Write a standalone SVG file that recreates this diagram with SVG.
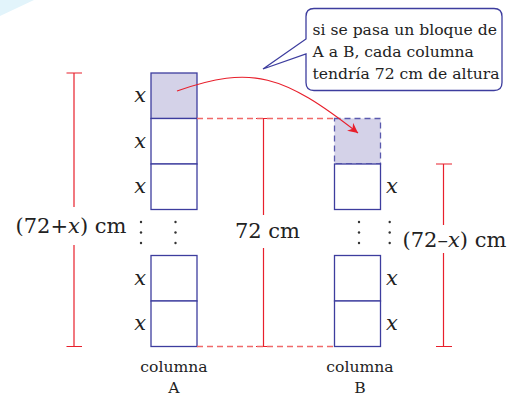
<svg xmlns="http://www.w3.org/2000/svg" width="521" height="403" viewBox="0 0 521 403">
<style>
.box{fill:#fff;stroke:#3d3d9e;stroke-width:1.3}
.sh{fill:#d4d2e8;stroke:#3d3d9e;stroke-width:1.3}
.dsh{fill:#d4d2e8;stroke:#5a5aae;stroke-width:1.3;stroke-dasharray:6 4}
.red{stroke:#e8202c;stroke-width:1.2;fill:none}
.rdash{stroke:#f06a6a;stroke-width:1.3;fill:none;stroke-dasharray:6 4}
.t{font-family:"DejaVu Serif","Liberation Serif",serif;fill:#222}
.big{font-size:21px}
.sm{font-size:15.6px}
.x{font-family:"DejaVu Serif","Liberation Serif",serif;font-style:italic;font-size:21px;fill:#222}
.dot{fill:#333}
</style>
<defs>
<marker id="ah" markerWidth="12" markerHeight="10" refX="10" refY="5" orient="auto" markerUnits="userSpaceOnUse">
<path d="M0,0 L10,5 L0,10 L3,5 Z" fill="#e8202c"/>
</marker>
</defs>
<polygon points="0,0 34,0 0,16" fill="#e2f4fb"/>
<g id="columnA">
<rect class="sh" x="151" y="73" width="46" height="45.5"/>
<rect class="box" x="151" y="118.5" width="46" height="45.5"/>
<rect class="box" x="151" y="164" width="46" height="45.5"/>
<rect class="box" x="151" y="255.5" width="46" height="45.5"/>
<rect class="box" x="151" y="301" width="46" height="45.5"/>
<text class="x" x="146" y="102" text-anchor="end">x</text>
<text class="x" x="146" y="147.5" text-anchor="end">x</text>
<text class="x" x="146" y="193" text-anchor="end">x</text>
<text class="x" x="146" y="285" text-anchor="end">x</text>
<text class="x" x="146" y="329.5" text-anchor="end">x</text>
<circle class="dot" cx="141" cy="222" r="1.2"/><circle class="dot" cx="141" cy="232.5" r="1.2"/><circle class="dot" cx="141" cy="243" r="1.2"/>
<circle class="dot" cx="175.5" cy="222" r="1.2"/><circle class="dot" cx="175.5" cy="232.5" r="1.2"/><circle class="dot" cx="175.5" cy="243" r="1.2"/>
<text class="t sm" x="174" y="372" text-anchor="middle">columna</text>
<text class="t sm" x="174" y="393" text-anchor="middle">A</text>
</g>
<g id="columnB">
<rect class="dsh" x="334.5" y="118.5" width="46" height="45.5"/>
<rect class="box" x="334.5" y="164" width="46" height="45.5"/>
<rect class="box" x="334.5" y="255.5" width="46" height="45.5"/>
<rect class="box" x="334.5" y="301" width="46" height="45.5"/>
<text class="x" x="386" y="193">x</text>
<text class="x" x="386" y="285">x</text>
<text class="x" x="386" y="329.5">x</text>
<circle class="dot" cx="359" cy="222" r="1.2"/><circle class="dot" cx="359" cy="232.5" r="1.2"/><circle class="dot" cx="359" cy="243" r="1.2"/>
<circle class="dot" cx="389.7" cy="222" r="1.2"/><circle class="dot" cx="389.7" cy="232.5" r="1.2"/><circle class="dot" cx="389.7" cy="243" r="1.2"/>
<text class="t sm" x="360" y="372" text-anchor="middle">columna</text>
<text class="t sm" x="360" y="393" text-anchor="middle">B</text>
</g>
<g id="dimLeft">
<path class="red" d="M74,73 V207 M74,245 V346.5 M66.5,73 H82 M66.5,346.5 H82"/>
<text class="t big" x="71" y="233" text-anchor="middle">(72+<tspan font-style="italic">x</tspan>) cm</text>
</g>
<g id="dimMiddle">
<path class="red" d="M263.5,118.5 V215 M263.5,248 V346.5 M256,118.5 H271 M256,346.5 H271"/>
<text class="t big" x="267.5" y="238" text-anchor="middle">72 cm</text>
</g>
<g id="dimRight">
<path class="red" d="M443.5,164 V225 M443.5,253 V346.5 M436,164 H452 M436,346.5 H452"/>
<text class="t big" x="402.5" y="247">(72–<tspan font-style="italic">x</tspan>) cm</text>
</g>
<g id="connectors">
<path class="rdash" d="M197,118.5 H334.5 M197,346.5 H334.5"/>
<path class="red" d="M177,91 C252,64.75 283,74.5 358,133" marker-end="url(#ah)"/>
</g>
<g id="callout">
<path d="M314,8.5 H494 Q502,8.5 502,16.5 V82.5 Q502,90.5 494,90.5 H314 Q306,90.5 306,82.5 V54 L263,69 L306,39 V16.5 Q306,8.5 314,8.5 Z" fill="#fff" stroke="#3d3d9e" stroke-width="1.3"/>
<text class="t sm" x="312.5" y="35">si se pasa un bloque de</text>
<text class="t sm" x="312.5" y="57">A a B, cada columna</text>
<text class="t sm" x="312.5" y="79">tendría 72 cm de altura</text>
</g>
</svg>
